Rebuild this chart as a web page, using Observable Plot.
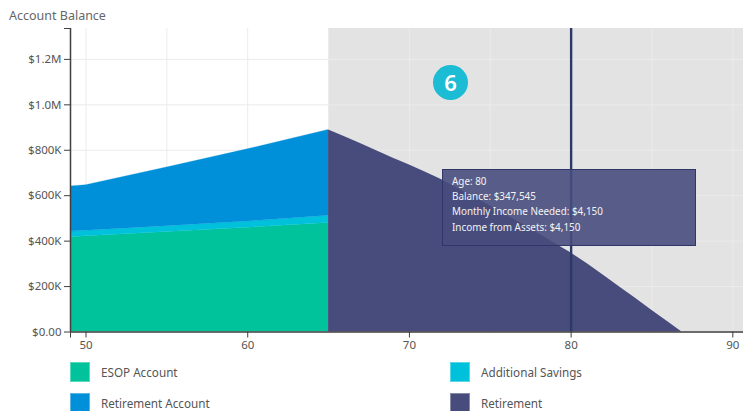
<!DOCTYPE html>
<html>
<head>
<meta charset="utf-8">
<script src="https://cdn.jsdelivr.net/npm/d3@7"></script>
<script src="https://cdn.jsdelivr.net/npm/@observablehq/plot@0.6"></script>
<style>
html,body{margin:0;padding:0;background:#fff;width:743px;height:411px;overflow:hidden;font-family:"Noto Sans",sans-serif;}
#wrap{position:relative;width:743px;height:411px;overflow:hidden;}
#title{position:absolute;left:9px;top:7px;font-size:12.5px;line-height:18px;color:#666;}
#chart{position:absolute;left:0;top:28px;}
#chart svg{display:block;}
#tip{position:absolute;left:442px;top:169px;width:254px;height:77px;box-sizing:border-box;background:rgba(71,77,125,.9);border:1px solid #2f3768;color:#f4f4f4;font-size:9.9px;padding:4px 0 0 9px;line-height:15.2px;}
#badge{position:absolute;left:433px;top:65px;width:35px;height:35px;border-radius:50%;background:#1cbcd4;color:#fff;font-size:22px;font-weight:600;line-height:35px;text-align:center;}
.sw{position:absolute;width:20px;height:20px;box-sizing:border-box;border:1px solid rgba(255,255,255,.35);}
.lb{position:absolute;font-size:11.7px;line-height:16px;color:#555;}
</style>
</head>
<body>
<div id="wrap">
<div id="title">Account Balance</div>
<div id="chart"></div>
<div id="badge">6</div>
<div id="tip"></div>
<div id="legend"></div>
</div>
<script>
const ages = [49, 50, 55, 60, 65];
const esop = [417000, 421000, 440000, 459000, 480000];
const additionalSavings = [25000, 25000, 26000, 27000, 32000];
const retirementAccount = [198000, 200000, 258000, 318000, 377000];

const retirementAges = [65, 66, 67, 68, 69, 70, 71, 72, 73, 74, 75, 76, 77, 78, 79, 80, 81, 82, 83, 84, 85, 86, 86.85];
const retirementBalance = [889000, 860000, 829000, 797000, 765000, 735000, 703000, 670000, 632000, 594000, 555000, 515000, 474000, 432000, 390000, 347545, 300000, 250000, 198000, 147000, 95000, 44000, 0];

const seriesNames = ["ESOP Account", "Retirement Account", "Additional Savings", "Retirement"];
const seriesColors = ["#00c39b", "#0090da", "#00c1dc", "#474c7c"];

const yTicks = [0, 200000, 400000, 600000, 800000, 1000000, 1200000];
const yLabels = ["$0.00", "$200K", "$400K", "$600K", "$800K", "$1.0M", "$1.2M"];
const xTicks = [50, 60, 70, 80, 90];
const gridAges = [50, 55, 60, 65, 70, 75, 80, 85, 90];
const tooltipLines = ["Age: 80", "Balance: $347,545", "Monthly Income Needed: $4,150", "Income from Assets: $4,150"];

const xDomain = [49.04, 90.66];
const yMax = 1336000;
const retireAge = 65;
const selectedAge = 80;

const stacked = [];
ages.forEach((a, i) => {
  stacked.push({age: a, value: esop[i], series: "ESOP Account"});
  stacked.push({age: a, value: additionalSavings[i], series: "Additional Savings"});
  stacked.push({age: a, value: retirementAccount[i], series: "Retirement Account"});
});
const retirement = retirementAges.map((a, i) => ({age: a, value: retirementBalance[i]}));

const axisColor = "#3f3f3f";
const chart = Plot.plot({
  width: 743,
  height: 332,
  marginTop: 0,
  marginLeft: 70,
  marginRight: 0,
  marginBottom: 28.5,
  style: {fontFamily: '"Noto Sans",sans-serif', fontSize: "11.5px", color: "#555", background: "transparent", overflow: "visible"},
  x: {domain: xDomain, label: null},
  y: {domain: [0, yMax], label: null},
  color: {domain: seriesNames, range: seriesColors},
  marks: [
    Plot.rectY([{x1: retireAge, x2: xDomain[1]}], {x1: "x1", x2: "x2", y1: 0, y2: yMax, fill: "#e3e3e3"}),
    Plot.gridX(gridAges, {stroke: "#ebebeb", strokeOpacity: 1, strokeWidth: 1}),
    Plot.gridY(yTicks, {stroke: "#ebebeb", strokeOpacity: 1, strokeWidth: 1}),
    Plot.areaY(stacked, {x: "age", y: "value", z: "series", fill: "series", stroke: "series", strokeWidth: 0.3, order: null, clip: true}),
    Plot.areaY(retirement, {x: "age", y: "value", fill: "#474c7c"}),
    Plot.ruleX([selectedAge], {stroke: "#2b3a67", strokeWidth: 2.4}),
    Plot.ruleX([xDomain[0]], {stroke: axisColor, strokeWidth: 1.5}),
    Plot.ruleY([0], {stroke: axisColor, strokeWidth: 1.5}),
    Plot.axisY([...yTicks, yMax], {
      anchor: "left", label: null, tickSize: 6, tickPadding: 3, stroke: axisColor, fill: "#555",
      tickFormat: d => { const i = yTicks.indexOf(d); return i < 0 ? "" : yLabels[i]; }
    }),
    Plot.axisX([xDomain[0], ...xTicks], {
      anchor: "bottom", label: null, tickSize: 6, tickPadding: 3, stroke: axisColor, fill: "#555",
      tickFormat: d => xTicks.includes(d) ? String(d) : ""
    })
  ]
});
document.getElementById("chart").appendChild(chart);

document.getElementById("tip").innerHTML = tooltipLines.map(t => `<div>${t}</div>`).join("");

const legendPos = [[70, 362], [70, 393], [450, 362], [450, 393]];
const legend = document.getElementById("legend");
seriesNames.forEach((name, i) => {
  const [l, t] = legendPos[i];
  const sw = document.createElement("div");
  sw.className = "sw";
  sw.style.cssText = `left:${l}px;top:${t}px;background:${seriesColors[i]}`;
  const lb = document.createElement("div");
  lb.className = "lb";
  lb.style.cssText = `left:${l + 31}px;top:${t + 2}px`;
  lb.textContent = name;
  legend.append(sw, lb);
});
</script>
</body>
</html>
